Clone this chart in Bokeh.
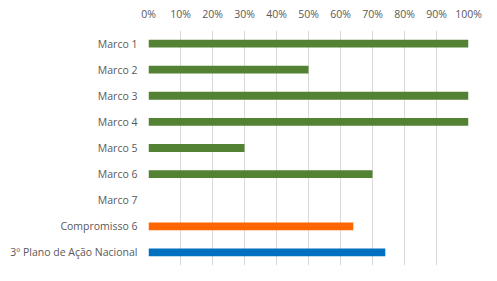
from bokeh.plotting import figure
from bokeh.models import FactorRange, Range1d, ColumnDataSource, NumeralTickFormatter, FixedTicker
from bokeh.embed import file_html
from bokeh.resources import INLINE

categories = ["Marco 1", "Marco 2", "Marco 3", "Marco 4", "Marco 5", "Marco 6", "Marco 7",
              "Compromisso 6", "3º Plano de Ação Nacional"]
values = [1.00, 0.50, 1.00, 1.00, 0.30, 0.70, 0.0, 0.64, 0.74]
colors = ["#548235"] * 7 + ["#ff6600", "#0070c0"]
ticks = [i / 10 for i in range(11)]

src = ColumnDataSource(dict(cat=categories, val=values, color=colors))

p = figure(width=497, height=281, y_range=FactorRange(factors=list(reversed(categories))),
           x_range=Range1d(0, 1), x_axis_location="above",
           output_backend="svg", toolbar_location=None,
           min_border_left=148, min_border_right=29, min_border_top=30, min_border_bottom=16)

p.hbar(y="cat", right="val", left=0, height=0.3, fill_color="color", line_color=None, source=src)

font = "Open Sans"
p.xaxis.ticker = FixedTicker(ticks=ticks)
p.xaxis.formatter = NumeralTickFormatter(format="0%")
for ax in (p.xaxis[0], p.yaxis[0]):
    ax.axis_line_color = None
    ax.major_tick_line_color = None
    ax.minor_tick_line_color = None
    ax.major_tick_out = 0
    ax.major_tick_in = 0
    ax.minor_tick_out = 0
    ax.major_label_text_font = font
    ax.major_label_text_font_size = "10.5px"
    ax.major_label_text_color = "#595959"
p.xaxis.major_label_standoff = 10
p.yaxis.major_label_standoff = 11

p.xgrid.ticker = FixedTicker(ticks=ticks)
p.xgrid.grid_line_color = "#d9d9d9"
p.ygrid.grid_line_color = None
p.outline_line_color = None
p.background_fill_color = "white"
p.border_fill_color = "white"

open("out.html", "w").write(file_html(p, INLINE))
